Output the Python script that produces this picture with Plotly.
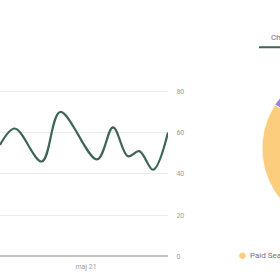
import numpy as np
import plotly.graph_objects as go

# ---- line chart data ----
dates = ["2021-04-16 00:00", "2021-04-18 14:00", "2021-04-23 07:00", "2021-04-26 12:00",
         "2021-05-02 22:00", "2021-05-05 17:00", "2021-05-08 07:00", "2021-05-10 07:00",
         "2021-05-12 17:00", "2021-05-15 07:00"]
values = [54, 62, 46, 70, 47, 62.5, 48.5, 51, 42, 60]
x_tick_vals = ["2021-05-01"]
x_tick_text = ["maj 21"]
y_ticks = [0, 20, 40, 60, 80]

# ---- pie data ----
pie_labels = ["Organic Search", "Paid Search", "Direct", "Referral"]
pie_values = [42, 42, 10, 6]
pie_colors = ["#5b8a72", "#fbcd7d", "#9d7fe3", "#e57373"]

W, H = 280, 280
GREEN = "#3f6555"

fig = go.Figure()
fig.add_trace(go.Scatter(
    x=dates, y=values, mode="lines",
    line=dict(color=GREEN, width=2.2, shape="spline", smoothing=1.0),
    showlegend=False, hoverinfo="skip", xaxis="x", yaxis="y"))

# pie slices drawn on an overlay cartesian axis (pie centre is outside the view)
total = sum(pie_values)
start = 0.0
for lab, v, c in zip(pie_labels, pie_values, pie_colors):
    end = start + v / total * 2 * np.pi
    th = np.linspace(start, end, 120)
    px_ = np.concatenate([[0], np.sin(th), [0]])
    py_ = np.concatenate([[0], np.cos(th), [0]])
    fig.add_trace(go.Scatter(x=px_, y=py_, mode="lines", fill="toself",
                             fillcolor=c, line=dict(color="white", width=0.8),
                             name=lab, showlegend=False, hoverinfo="skip",
                             xaxis="x2", yaxis="y2"))
    start = end

cx, cy, r = 345, 150, 83
y_bottom_px, y_top_val_px = 260, 92
y_max = 81
px_per_unit = (y_bottom_px - y_top_val_px) / 80

fig.update_layout(
    width=W, height=H, margin=dict(l=0, r=0, t=0, b=0),
    paper_bgcolor="white", plot_bgcolor="rgba(0,0,0,0)",
    font=dict(family="Roboto", color="#9e9e9e", size=7),
    xaxis=dict(domain=[0, 168 / W], type="date",
               range=["2021-04-16 00:00", "2021-05-15 07:00"],
               tickvals=x_tick_vals, ticktext=x_tick_text,
               showgrid=False, showline=False, zeroline=False,
               ticks="outside", ticklen=3, tickcolor="rgba(0,0,0,0)",
               tickfont=dict(size=7, color="#9e9e9e"), anchor="y", fixedrange=True),
    yaxis=dict(domain=[(H - y_bottom_px) / H,
                       (H - (y_bottom_px - y_max * px_per_unit)) / H],
               range=[0, y_max], side="right", tickvals=y_ticks,
               showgrid=True, gridcolor="#ececec", gridwidth=1,
               zeroline=True, zerolinecolor="#c4c4c4", zerolinewidth=1.6,
               ticks="outside", ticklen=6, tickcolor="rgba(0,0,0,0)",
               tickfont=dict(size=7, color="#9e9e9e"), anchor="x", fixedrange=True),
    xaxis2=dict(domain=[0, 1], range=[(0 - cx) / r, (W - cx) / r], visible=False,
                anchor="y2", fixedrange=True),
    yaxis2=dict(domain=[0, 1], range=[(cy - H) / r, cy / r], visible=False,
                anchor="x2", fixedrange=True),
    showlegend=False,
)

# tab header
fig.add_annotation(text="Channels", x=269 / W, y=1 - 37 / H, xref="paper", yref="paper",
                   xanchor="left", yanchor="middle", showarrow=False,
                   font=dict(size=8, color="#757575"))
fig.add_shape(type="line", x0=259 / W, x1=1.2, y0=1 - 47 / H, y1=1 - 47 / H,
              xref="paper", yref="paper", line=dict(color=GREEN, width=2))
# pie legend
fig.add_annotation(text="●", x=242 / W, y=1 - 259 / H, xref="paper", yref="paper",
                   xanchor="center", yanchor="middle", showarrow=False,
                   font=dict(size=15, color="#fbcd7d"))
fig.add_annotation(text="Paid Search", x=247.5 / W, y=1 - 259 / H, xref="paper", yref="paper",
                   xanchor="left", yanchor="middle", showarrow=False,
                   font=dict(size=8, color="#757575"))

fig.write_html("out.html")
